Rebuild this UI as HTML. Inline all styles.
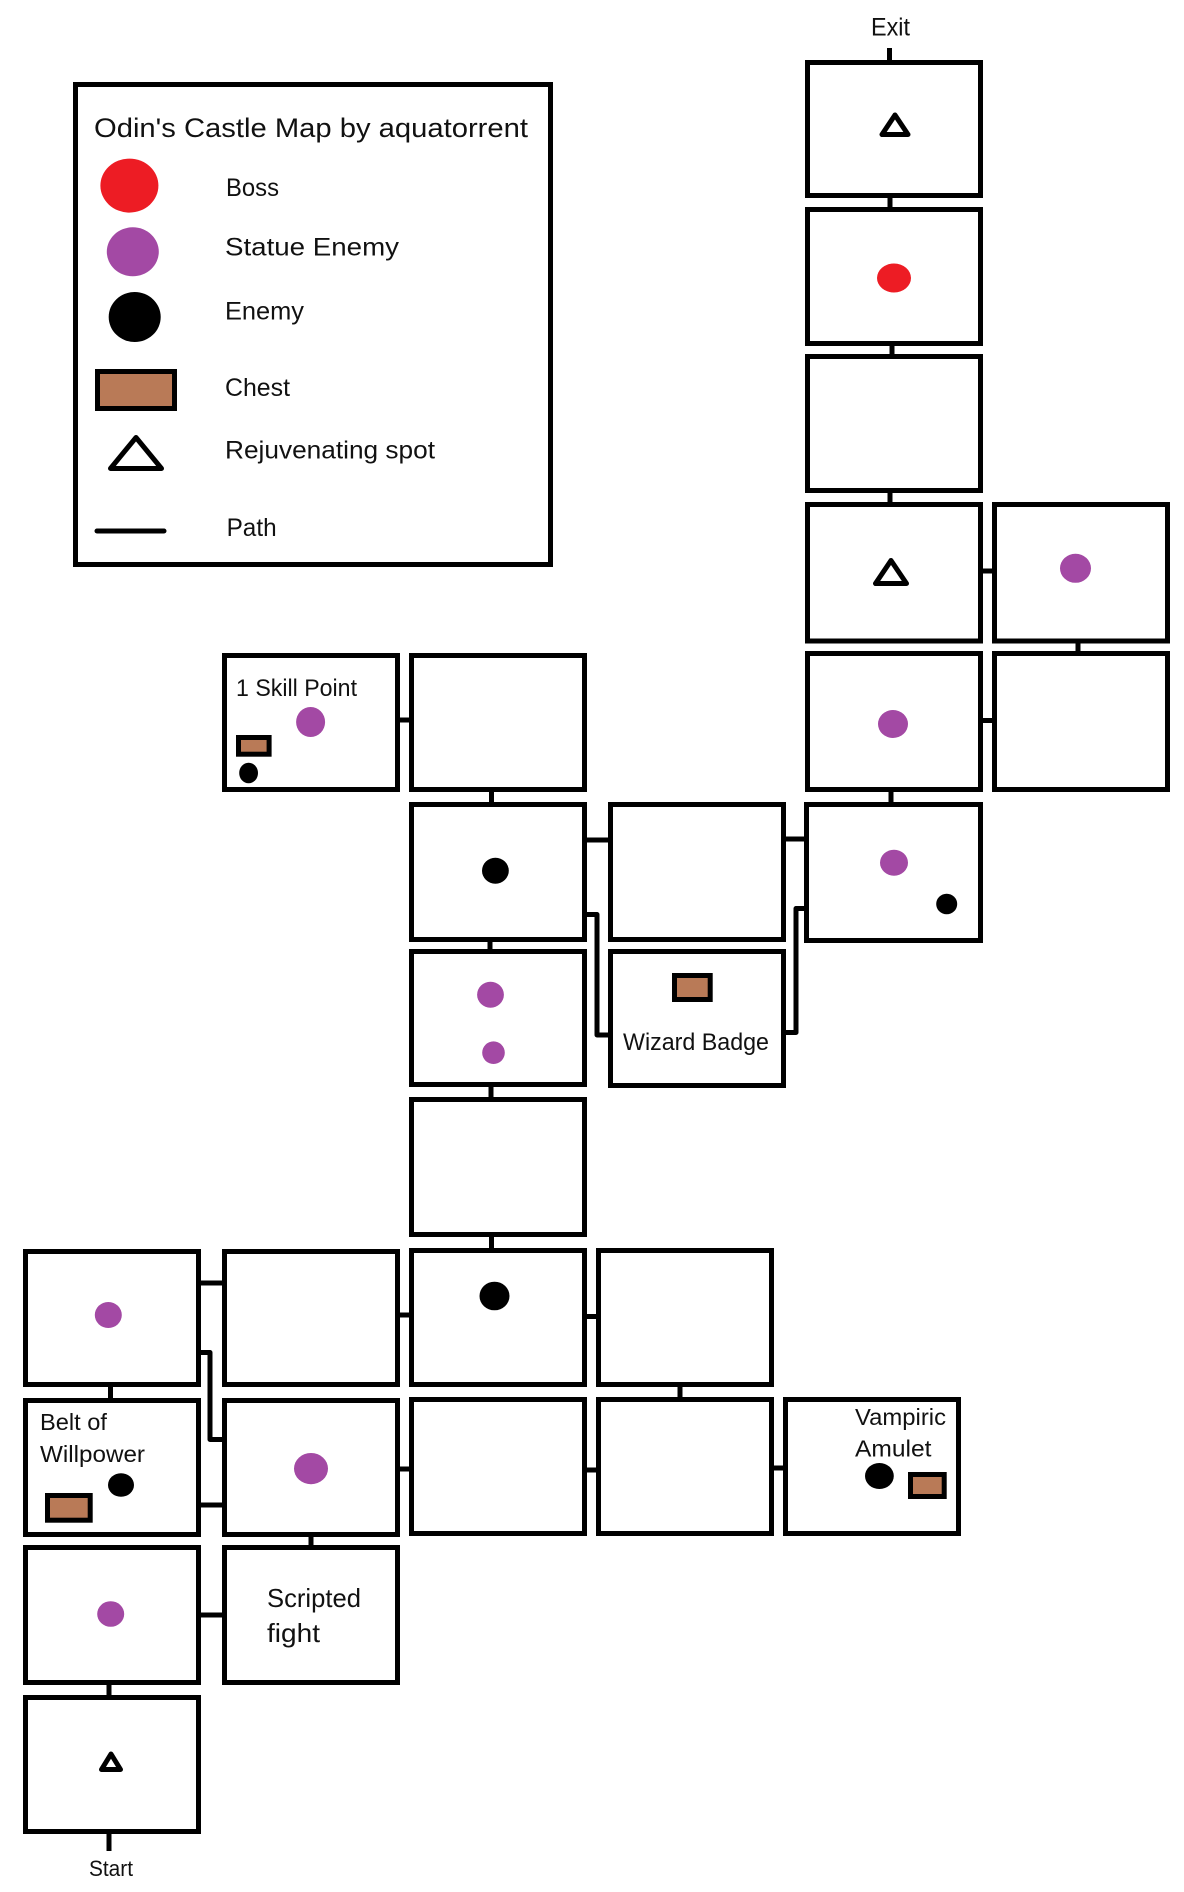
<!DOCTYPE html>
<html>
<head>
<meta charset="utf-8">
<style>
  html, body { margin: 0; padding: 0; background: #ffffff; }
  svg { display: block; }
  text { font-family: "Liberation Sans", "DejaVu Sans", sans-serif; fill: #111111; }
</style>
</head>
<body>
<svg width="1184" height="1892" viewBox="0 0 1184 1892" xmlns="http://www.w3.org/2000/svg">
  <rect x="0" y="0" width="1184" height="1892" fill="#ffffff"/>

  <!-- ===== Connectors (drawn first) ===== -->
  <g stroke="#000" stroke-width="5" fill="none" stroke-linejoin="round">
    <!-- Exit stub -->
    <line x1="889.5" y1="48" x2="889.5" y2="62"/>
    <!-- right tower -->
    <line x1="890" y1="196" x2="890" y2="209"/>
    <line x1="892" y1="344" x2="892" y2="356"/>
    <line x1="890" y1="491" x2="890" y2="504"/>
    <line x1="981" y1="571" x2="994" y2="571"/>
    <line x1="1078" y1="641" x2="1078" y2="653"/>
    <line x1="981" y1="720.5" x2="994" y2="720.5"/>
    <line x1="891" y1="790" x2="891" y2="804"/>
    <!-- middle -->
    <line x1="398" y1="720" x2="411" y2="720"/>
    <line x1="491.5" y1="790" x2="491.5" y2="804"/>
    <line x1="585" y1="840" x2="610" y2="840"/>
    <line x1="784" y1="839" x2="805" y2="839"/>
    <polyline points="585,914.5 597,914.5 597,1035 610,1035"/>
    <polyline points="784,1032.5 796,1032.5 796,908.5 806,908.5"/>
    <line x1="490" y1="940" x2="490" y2="951"/>
    <line x1="491" y1="1085" x2="491" y2="1099"/>
    <line x1="491.5" y1="1235" x2="491.5" y2="1250"/>
    <!-- bottom -->
    <line x1="199" y1="1283" x2="224" y2="1283"/>
    <polyline points="199,1352.5 210,1352.5 210,1439.5 224,1439.5"/>
    <line x1="398" y1="1315" x2="411" y2="1315"/>
    <line x1="585" y1="1316.5" x2="598" y2="1316.5"/>
    <line x1="110.5" y1="1385" x2="110.5" y2="1400"/>
    <line x1="680" y1="1385" x2="680" y2="1399"/>
    <line x1="199" y1="1505" x2="224" y2="1505"/>
    <line x1="398" y1="1469" x2="411" y2="1469"/>
    <line x1="585" y1="1470" x2="598" y2="1470"/>
    <line x1="772" y1="1468" x2="785" y2="1468"/>
    <line x1="311" y1="1535" x2="311" y2="1547"/>
    <line x1="199" y1="1615" x2="224" y2="1615"/>
    <line x1="109" y1="1683" x2="109" y2="1697"/>
    <!-- Start stub -->
    <line x1="109" y1="1832" x2="109" y2="1851"/>
  </g>

  <!-- ===== Rooms ===== -->
  <g stroke="#000" stroke-width="5" fill="#ffffff">
    <!-- right tower col4 -->
    <rect x="807.5" y="62.5" width="173" height="133"/>
    <rect x="807.5" y="209.5" width="173" height="134"/>
    <rect x="807.5" y="356.5" width="173" height="134"/>
    <rect x="807.5" y="504.5" width="173" height="136.5"/>
    <rect x="807.5" y="653.5" width="173" height="136"/>
    <rect x="806.5" y="804.5" width="174" height="136"/>
    <!-- col5 -->
    <rect x="994.5" y="504.5" width="173" height="136.5"/>
    <rect x="994.5" y="653.5" width="173" height="136"/>
    <!-- middle -->
    <rect x="224.5" y="655.5" width="173" height="134"/>
    <rect x="411.5" y="655.5" width="173" height="134"/>
    <rect x="411.5" y="804.5" width="173" height="135"/>
    <rect x="610.5" y="804.5" width="173" height="135"/>
    <rect x="411.5" y="951.5" width="173" height="133"/>
    <rect x="610.5" y="951.5" width="173" height="134"/>
    <rect x="411.5" y="1099.5" width="173" height="135"/>
    <!-- row 10 -->
    <rect x="25.5" y="1251.5" width="173" height="133"/>
    <rect x="224.5" y="1251.5" width="173" height="133"/>
    <rect x="411.5" y="1250.5" width="173" height="134"/>
    <rect x="598.5" y="1250.5" width="173" height="134"/>
    <!-- row 11 -->
    <rect x="25.5" y="1400.5" width="173" height="134"/>
    <rect x="224.5" y="1400.5" width="173" height="134"/>
    <rect x="411.5" y="1399.5" width="173" height="134"/>
    <rect x="598.5" y="1399.5" width="173" height="134"/>
    <rect x="785.5" y="1399.5" width="173" height="134"/>
    <!-- row 12 -->
    <rect x="25.5" y="1547.5" width="173" height="135"/>
    <rect x="224.5" y="1547.5" width="173" height="135"/>
    <!-- row 13 start -->
    <rect x="25.5" y="1697.5" width="173" height="134"/>
  </g>

  <!-- ===== Legend ===== -->
  <rect x="75.5" y="84.5" width="475" height="480" fill="#fff" stroke="#000" stroke-width="5"/>
  <text x="94" y="137" font-size="27" textLength="434" lengthAdjust="spacingAndGlyphs">Odin's Castle Map by aquatorrent</text>
  <ellipse cx="129.4" cy="185.6" rx="29" ry="27" fill="#ed1c24"/>
  <text x="226" y="196" font-size="25" textLength="53" lengthAdjust="spacingAndGlyphs">Boss</text>
  <ellipse cx="132.8" cy="251.8" rx="26" ry="24.5" fill="#a349a4"/>
  <text x="225" y="255.6" font-size="25" textLength="174" lengthAdjust="spacingAndGlyphs">Statue Enemy</text>
  <ellipse cx="134.7" cy="317" rx="26" ry="25" fill="#000"/>
  <text x="225" y="319.6" font-size="25" textLength="79" lengthAdjust="spacingAndGlyphs">Enemy</text>
  <rect x="97.5" y="371.5" width="77" height="37" fill="#b97a57" stroke="#000" stroke-width="5"/>
  <text x="225" y="396" font-size="25" textLength="65" lengthAdjust="spacingAndGlyphs">Chest</text>
  <polygon points="136,437.5 110.5,468.5 161.5,468.5" fill="#fff" stroke="#000" stroke-width="5" stroke-linejoin="round"/>
  <text x="225" y="458.5" font-size="25" textLength="210" lengthAdjust="spacingAndGlyphs">Rejuvenating spot</text>
  <line x1="97" y1="531" x2="164" y2="531" stroke="#000" stroke-width="5" stroke-linecap="round"/>
  <text x="226.6" y="535.8" font-size="25" textLength="50" lengthAdjust="spacingAndGlyphs">Path</text>

  <!-- ===== Room contents ===== -->
  <!-- Exit / Start labels -->
  <text x="871" y="35.7" font-size="25" textLength="39" lengthAdjust="spacingAndGlyphs">Exit</text>
  <text x="89" y="1876" font-size="22" textLength="44" lengthAdjust="spacingAndGlyphs">Start</text>

  <!-- triangles -->
  <g fill="#fff" stroke="#000" stroke-width="5" stroke-linejoin="round">
    <polygon points="895,115 882,134.5 908,134.5"/>
    <polygon points="891,560.5 875.5,583.5 906.5,583.5"/>
    <polygon points="111,1754 101.5,1769.5 120.5,1769.5"/>
  </g>

  <!-- boss -->
  <ellipse cx="894" cy="278" rx="17" ry="14.5" fill="#ed1c24"/>

  <!-- purples -->
  <g fill="#a349a4">
    <ellipse cx="1075.5" cy="568.3" rx="15.5" ry="14.5"/>
    <ellipse cx="893" cy="724" rx="15" ry="14"/>
    <ellipse cx="894" cy="862.7" rx="14" ry="13"/>
    <ellipse cx="310.6" cy="722" rx="14.5" ry="15"/>
    <ellipse cx="490.5" cy="994.7" rx="13.4" ry="13"/>
    <ellipse cx="493.5" cy="1052.7" rx="11.3" ry="11.3"/>
    <ellipse cx="108.3" cy="1315" rx="13.5" ry="13"/>
    <ellipse cx="311" cy="1468.6" rx="17" ry="15.6"/>
    <ellipse cx="110.7" cy="1614" rx="13.5" ry="12.8"/>
  </g>

  <!-- black enemies -->
  <g fill="#000">
    <ellipse cx="946.7" cy="904" rx="10.5" ry="10.3"/>
    <ellipse cx="248.6" cy="773" rx="9.4" ry="10.3"/>
    <ellipse cx="495.4" cy="870.7" rx="13.4" ry="13"/>
    <ellipse cx="494.5" cy="1296" rx="15" ry="14.3"/>
    <ellipse cx="121" cy="1485" rx="13" ry="11.8"/>
    <ellipse cx="879.4" cy="1476" rx="14.4" ry="13"/>
  </g>

  <!-- chests -->
  <g fill="#b97a57" stroke="#000" stroke-width="5">
    <rect x="238.5" y="737.5" width="30.6" height="16.7"/>
    <rect x="674.5" y="975.5" width="35.7" height="24"/>
    <rect x="47.5" y="1495.5" width="42.7" height="24.7"/>
    <rect x="910.5" y="1474.5" width="33.7" height="22"/>
  </g>

  <!-- room labels -->
  <text x="236" y="696" font-size="24" textLength="121" lengthAdjust="spacingAndGlyphs">1 Skill Point</text>
  <text x="623" y="1050" font-size="24" textLength="146" lengthAdjust="spacingAndGlyphs">Wizard Badge</text>
  <text x="40" y="1430" font-size="23" textLength="67" lengthAdjust="spacingAndGlyphs">Belt of</text>
  <text x="40" y="1462" font-size="23" textLength="105" lengthAdjust="spacingAndGlyphs">Willpower</text>
  <text x="855" y="1425" font-size="23" textLength="91" lengthAdjust="spacingAndGlyphs">Vampiric</text>
  <text x="855" y="1456.7" font-size="23" textLength="76.5" lengthAdjust="spacingAndGlyphs">Amulet</text>
  <text x="267" y="1607" font-size="26" textLength="94" lengthAdjust="spacingAndGlyphs">Scripted</text>
  <text x="267" y="1642" font-size="26" textLength="53" lengthAdjust="spacingAndGlyphs">fight</text>
</svg>
</body>
</html>
